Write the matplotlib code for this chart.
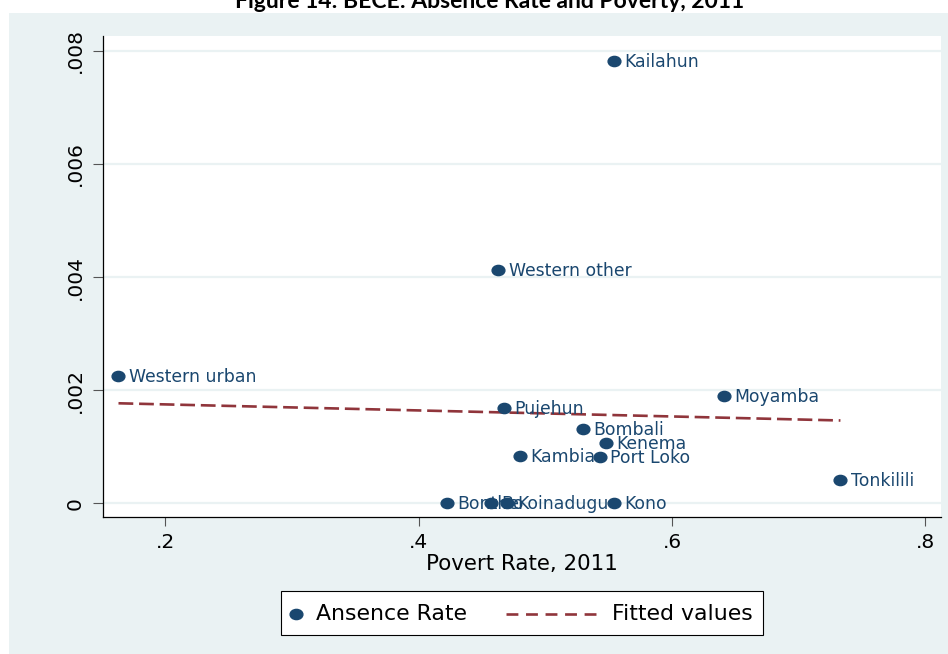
import numpy as np
import matplotlib
matplotlib.use("Agg")
import matplotlib.pyplot as plt
from matplotlib.patches import Rectangle
from matplotlib.lines import Line2D
from matplotlib.path import Path
from matplotlib.transforms import Affine2D

plt.rcParams['font.family'] = ['DejaVu Sans']

# District-level BECE absence rate against 2011 poverty rate
districts = ["Kailahun", "Western other", "Western urban", "Moyamba", "Pujehun",
             "Bombali", "Kenema", "Kambia", "Port Loko", "Tonkilili",
             "Bonthe", "Bo", "Koinadugu", "Kono"]
poverty = [0.554, 0.463, 0.163, 0.641, 0.467,
           0.530, 0.548, 0.480, 0.543, 0.733,
           0.422, 0.457, 0.470, 0.554]
absence = [0.00782, 0.00413, 0.00225, 0.00190, 0.00169,
           0.00131, 0.00106, 0.00084, 0.00082, 0.00041,
           0.0, 0.0, 0.0, 0.0]

x_ticks = [0.2, 0.4, 0.6, 0.8]
x_tick_labels = [".2", ".4", ".6", ".8"]
y_ticks = [0, 0.002, 0.004, 0.006, 0.008]
y_tick_labels = ["0", ".002", ".004", ".006", ".008"]

NAVY = "#1A476F"
MAROON = "#90353B"
BG = "#EAF2F3"

W, H = 948, 654
fig = plt.figure(figsize=(W / 100, H / 100), dpi=100, facecolor="white")


def fx(px):
    return px / W


def fy(py):
    return 1 - py / H


# light bluish-grey graph region
fig.add_artist(Rectangle((fx(9), 0), 1 - fx(9), fy(13), transform=fig.transFigure,
                         facecolor=BG, edgecolor="none", zorder=0))

# caption running off the top edge
fig.text(fx(490), fy(7.5), "Figure 14: BECE: Absence Rate and Poverty, 2011",
         ha="center", va="baseline", fontsize=16.5, fontweight="bold",
         family=["Lato", "DejaVu Sans"], color="black")

left, right, top, bottom = 103.3, 940.5, 35.7, 517.3
ax = fig.add_axes([fx(left), fy(bottom), fx(right - left), (bottom - top) / H])
ax.set_facecolor("white")
ax.set_zorder(1)

# slightly wide ellipse marker
ellipse = Path.unit_circle().transformed(Affine2D().scale(1.25, 1.0))

ax.set_xlim(0.151, 0.812)
ax.set_ylim(-0.000248, 0.00827)

ax.set_yticks(y_ticks)
ax.set_yticklabels(y_tick_labels, rotation=90, va="center")
ax.set_xticks(x_ticks)
ax.set_xticklabels(x_tick_labels)
ax.grid(axis="y", color=BG, linewidth=1.6, zorder=0)
ax.set_axisbelow(True)

ax.tick_params(axis="y", length=7.2, width=0.8, color="#555555", pad=6, labelsize=14.5)
ax.tick_params(axis="x", length=6.5, width=0.8, color="#555555", pad=5, labelsize=14.5)

for side in ("top", "right"):
    ax.spines[side].set_visible(False)
for side in ("left", "bottom"):
    ax.spines[side].set_linewidth(0.9)
    ax.spines[side].set_color("black")

ax.plot(poverty, absence, linestyle="none", marker=ellipse, markersize=9.2,
        color=NAVY, zorder=3)

for name, xv, yv in zip(districts, poverty, absence):
    ax.annotate(name, (xv, yv), xytext=(7.4, -0.8), textcoords="offset points",
                ha="left", va="center", fontsize=12.4, color=NAVY, zorder=4)

# linear fit over the observed poverty range
slope, intercept = np.polyfit(poverty, absence, 1)
xs = np.array([min(poverty), max(poverty)])
ax.plot(xs, intercept + slope * xs, color=MAROON, linewidth=1.9,
        dashes=(5.6, 2.2), zorder=2)

ax.set_xlabel("Povert Rate, 2011", fontsize=15.4, labelpad=1)

# legend box
fig.add_artist(Rectangle((fx(281), fy(635.4)), fx(762.8 - 281), (635.4 - 591.2) / H,
                         transform=fig.transFigure, facecolor="white",
                         edgecolor="black", linewidth=0.8, zorder=2))
fig.add_artist(Line2D([fx(295.6)], [fy(613.5)], transform=fig.transFigure,
                      marker=ellipse, markersize=9.2, color=NAVY, linestyle="none",
                      zorder=3))
fig.text(fx(316), fy(613.5), "Ansence Rate", ha="left", va="center",
         fontsize=15.8, color="black", zorder=3)
fig.add_artist(Line2D([fx(506), fx(597)], [fy(613.5), fy(613.5)],
                      transform=fig.transFigure, color=MAROON, linewidth=1.9,
                      dashes=(4.5, 2.9), zorder=3))
fig.text(fx(612), fy(613.5), "Fitted values", ha="left", va="center",
         fontsize=15.8, color="black", zorder=3)

fig.savefig("out.png", dpi=100, facecolor="white")
